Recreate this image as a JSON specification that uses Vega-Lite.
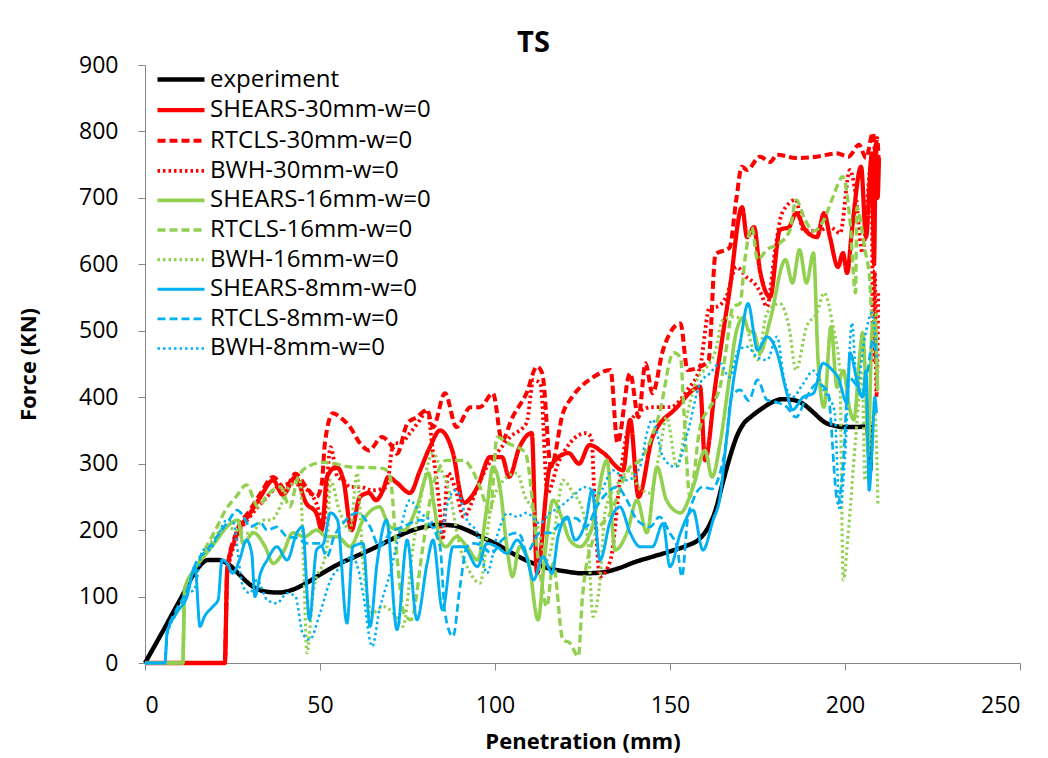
{
  "$schema": "https://vega.github.io/schema/vega-lite/v6.json",
  "width": 875,
  "height": 598,
  "autosize": "none",
  "padding": {"left": 145, "top": 65, "right": 28, "bottom": 95},
  "background": "white",
  "config": {
    "font": "Open Sans",
    "view": {"stroke": null},
    "axis": {"grid": false, "domainColor": "#868686", "tickColor": "#868686", "labelColor": "#000000", "titleColor": "#000000", "labelFont": "Open Sans", "titleFont": "Open Sans", "labelFontSize": 23, "titleFontSize": 22, "titleFontWeight": "bold", "tickSize": 7}
  },
  "title": {"text": "TS", "fontSize": 29, "fontWeight": "bold", "font": "Open Sans", "anchor": "middle", "frame": "group", "dx": -49, "offset": -4, "color": "#000000"},
  "data": {"values": [
{"series":"experiment","x":0,"y":0},{"series":"experiment","x":5,"y":47},{"series":"experiment","x":10,"y":95},{"series":"experiment","x":15,"y":142},{"series":"experiment","x":18,"y":155},{"series":"experiment","x":21,"y":155},{"series":"experiment","x":24,"y":148},{"series":"experiment","x":27,"y":133},{"series":"experiment","x":30,"y":118},{"series":"experiment","x":34,"y":108},{"series":"experiment","x":38,"y":106},{"series":"experiment","x":42,"y":110},{"series":"experiment","x":46,"y":120},{"series":"experiment","x":50,"y":133},{"series":"experiment","x":55,"y":148},{"series":"experiment","x":60,"y":160},{"series":"experiment","x":65,"y":172},{"series":"experiment","x":70,"y":185},{"series":"experiment","x":75,"y":197},{"series":"experiment","x":80,"y":205},{"series":"experiment","x":84,"y":208},{"series":"experiment","x":88,"y":207},{"series":"experiment","x":92,"y":200},{"series":"experiment","x":96,"y":190},{"series":"experiment","x":100,"y":180},{"series":"experiment","x":105,"y":165},{"series":"experiment","x":110,"y":152},{"series":"experiment","x":115,"y":143},{"series":"experiment","x":120,"y":138},{"series":"experiment","x":125,"y":135},{"series":"experiment","x":130,"y":136},{"series":"experiment","x":135,"y":142},{"series":"experiment","x":140,"y":152},{"series":"experiment","x":145,"y":160},{"series":"experiment","x":150,"y":168},{"series":"experiment","x":155,"y":177},{"series":"experiment","x":158,"y":185},{"series":"experiment","x":161,"y":205},{"series":"experiment","x":163,"y":230},{"series":"experiment","x":165,"y":270},{"series":"experiment","x":167,"y":308},{"series":"experiment","x":169,"y":340},{"series":"experiment","x":171,"y":360},{"series":"experiment","x":173,"y":370},{"series":"experiment","x":176,"y":382},{"series":"experiment","x":179,"y":392},{"series":"experiment","x":182,"y":397},{"series":"experiment","x":185,"y":396},{"series":"experiment","x":188,"y":390},{"series":"experiment","x":191,"y":377},{"series":"experiment","x":194,"y":363},{"series":"experiment","x":197,"y":357},{"series":"experiment","x":200,"y":355},{"series":"experiment","x":203,"y":355},{"series":"experiment","x":206,"y":356},{"series":"experiment","x":206.8,"y":330},{"series":"experiment","x":207.2,"y":290},{"series":"experiment","x":207.6,"y":355},{"series":"experiment","x":208,"y":355},

{"series":"SHEARS-30mm-w=0","x":0,"y":0},{"series":"SHEARS-30mm-w=0","x":22.8,"y":0},{"series":"SHEARS-30mm-w=0","x":23.5,"y":140},{"series":"SHEARS-30mm-w=0","x":26,"y":190},{"series":"SHEARS-30mm-w=0","x":30,"y":225},{"series":"SHEARS-30mm-w=0","x":33,"y":250},{"series":"SHEARS-30mm-w=0","x":36.6,"y":275},{"series":"SHEARS-30mm-w=0","x":39.4,"y":253},{"series":"SHEARS-30mm-w=0","x":43,"y":280},{"series":"SHEARS-30mm-w=0","x":46,"y":241},{"series":"SHEARS-30mm-w=0","x":49,"y":225},{"series":"SHEARS-30mm-w=0","x":50.5,"y":200},{"series":"SHEARS-30mm-w=0","x":52,"y":280},{"series":"SHEARS-30mm-w=0","x":54.7,"y":295},{"series":"SHEARS-30mm-w=0","x":56.7,"y":275},{"series":"SHEARS-30mm-w=0","x":59,"y":200},{"series":"SHEARS-30mm-w=0","x":61.4,"y":250},{"series":"SHEARS-30mm-w=0","x":64,"y":256},{"series":"SHEARS-30mm-w=0","x":66,"y":245},{"series":"SHEARS-30mm-w=0","x":68,"y":260},{"series":"SHEARS-30mm-w=0","x":69.5,"y":280},{"series":"SHEARS-30mm-w=0","x":72,"y":271},{"series":"SHEARS-30mm-w=0","x":75.7,"y":256},{"series":"SHEARS-30mm-w=0","x":78.6,"y":290},{"series":"SHEARS-30mm-w=0","x":81.4,"y":325},{"series":"SHEARS-30mm-w=0","x":84.3,"y":350},{"series":"SHEARS-30mm-w=0","x":88,"y":316},{"series":"SHEARS-30mm-w=0","x":91,"y":241},{"series":"SHEARS-30mm-w=0","x":95,"y":265},{"series":"SHEARS-30mm-w=0","x":98.6,"y":310},{"series":"SHEARS-30mm-w=0","x":102,"y":310},{"series":"SHEARS-30mm-w=0","x":104,"y":280},{"series":"SHEARS-30mm-w=0","x":107,"y":325},{"series":"SHEARS-30mm-w=0","x":110.5,"y":346},{"series":"SHEARS-30mm-w=0","x":112,"y":135},{"series":"SHEARS-30mm-w=0","x":115.7,"y":295},{"series":"SHEARS-30mm-w=0","x":121,"y":316},{"series":"SHEARS-30mm-w=0","x":124,"y":300},{"series":"SHEARS-30mm-w=0","x":127,"y":328},{"series":"SHEARS-30mm-w=0","x":131,"y":316},{"series":"SHEARS-30mm-w=0","x":136.6,"y":290},{"series":"SHEARS-30mm-w=0","x":138.6,"y":366},{"series":"SHEARS-30mm-w=0","x":141,"y":250},{"series":"SHEARS-30mm-w=0","x":145,"y":340},{"series":"SHEARS-30mm-w=0","x":152,"y":385},{"series":"SHEARS-30mm-w=0","x":156.6,"y":411},{"series":"SHEARS-30mm-w=0","x":158.6,"y":416},{"series":"SHEARS-30mm-w=0","x":160,"y":305},{"series":"SHEARS-30mm-w=0","x":163,"y":420},{"series":"SHEARS-30mm-w=0","x":167,"y":560},{"series":"SHEARS-30mm-w=0","x":170.6,"y":686},{"series":"SHEARS-30mm-w=0","x":172,"y":641},{"series":"SHEARS-30mm-w=0","x":174,"y":656},{"series":"SHEARS-30mm-w=0","x":175.7,"y":591},{"series":"SHEARS-30mm-w=0","x":178.6,"y":551},{"series":"SHEARS-30mm-w=0","x":181.4,"y":652},{"series":"SHEARS-30mm-w=0","x":184,"y":656},{"series":"SHEARS-30mm-w=0","x":186,"y":677},{"series":"SHEARS-30mm-w=0","x":188.6,"y":652},{"series":"SHEARS-30mm-w=0","x":192,"y":641},{"series":"SHEARS-30mm-w=0","x":194,"y":677},{"series":"SHEARS-30mm-w=0","x":195.7,"y":641},{"series":"SHEARS-30mm-w=0","x":198,"y":596},{"series":"SHEARS-30mm-w=0","x":199.4,"y":617},{"series":"SHEARS-30mm-w=0","x":200.6,"y":587},{"series":"SHEARS-30mm-w=0","x":202,"y":652},{"series":"SHEARS-30mm-w=0","x":204.6,"y":747},{"series":"SHEARS-30mm-w=0","x":206,"y":641},{"series":"SHEARS-30mm-w=0","x":207.7,"y":767},{"series":"SHEARS-30mm-w=0","x":208.3,"y":600},{"series":"SHEARS-30mm-w=0","x":208.8,"y":780},{"series":"SHEARS-30mm-w=0","x":209.3,"y":700},{"series":"SHEARS-30mm-w=0","x":209.7,"y":760},

{"series":"RTCLS-30mm-w=0","x":0,"y":0},{"series":"RTCLS-30mm-w=0","x":22.8,"y":0},{"series":"RTCLS-30mm-w=0","x":23.5,"y":140},{"series":"RTCLS-30mm-w=0","x":26,"y":195},{"series":"RTCLS-30mm-w=0","x":30,"y":230},{"series":"RTCLS-30mm-w=0","x":33,"y":255},{"series":"RTCLS-30mm-w=0","x":36.6,"y":280},{"series":"RTCLS-30mm-w=0","x":40,"y":262},{"series":"RTCLS-30mm-w=0","x":43,"y":285},{"series":"RTCLS-30mm-w=0","x":46,"y":265},{"series":"RTCLS-30mm-w=0","x":49,"y":250},{"series":"RTCLS-30mm-w=0","x":50.5,"y":270},{"series":"RTCLS-30mm-w=0","x":51.4,"y":331},{"series":"RTCLS-30mm-w=0","x":53.7,"y":376},{"series":"RTCLS-30mm-w=0","x":55.7,"y":370},{"series":"RTCLS-30mm-w=0","x":58.6,"y":355},{"series":"RTCLS-30mm-w=0","x":61.4,"y":331},{"series":"RTCLS-30mm-w=0","x":64,"y":320},{"series":"RTCLS-30mm-w=0","x":67.7,"y":340},{"series":"RTCLS-30mm-w=0","x":70,"y":330},{"series":"RTCLS-30mm-w=0","x":72,"y":315},{"series":"RTCLS-30mm-w=0","x":75,"y":361},{"series":"RTCLS-30mm-w=0","x":77.7,"y":370},{"series":"RTCLS-30mm-w=0","x":80.6,"y":381},{"series":"RTCLS-30mm-w=0","x":82.3,"y":355},{"series":"RTCLS-30mm-w=0","x":85.7,"y":406},{"series":"RTCLS-30mm-w=0","x":89,"y":355},{"series":"RTCLS-30mm-w=0","x":93,"y":385},{"series":"RTCLS-30mm-w=0","x":95.7,"y":385},{"series":"RTCLS-30mm-w=0","x":99.4,"y":406},{"series":"RTCLS-30mm-w=0","x":102,"y":335},{"series":"RTCLS-30mm-w=0","x":105,"y":370},{"series":"RTCLS-30mm-w=0","x":109,"y":406},{"series":"RTCLS-30mm-w=0","x":112,"y":446},{"series":"RTCLS-30mm-w=0","x":113.5,"y":436},{"series":"RTCLS-30mm-w=0","x":116,"y":295},{"series":"RTCLS-30mm-w=0","x":119.4,"y":376},{"series":"RTCLS-30mm-w=0","x":122,"y":400},{"series":"RTCLS-30mm-w=0","x":128,"y":430},{"series":"RTCLS-30mm-w=0","x":133,"y":441},{"series":"RTCLS-30mm-w=0","x":135,"y":331},{"series":"RTCLS-30mm-w=0","x":138.6,"y":436},{"series":"RTCLS-30mm-w=0","x":141,"y":370},{"series":"RTCLS-30mm-w=0","x":143,"y":451},{"series":"RTCLS-30mm-w=0","x":145,"y":406},{"series":"RTCLS-30mm-w=0","x":148,"y":471},{"series":"RTCLS-30mm-w=0","x":153,"y":511},{"series":"RTCLS-30mm-w=0","x":155,"y":441},{"series":"RTCLS-30mm-w=0","x":158.6,"y":446},{"series":"RTCLS-30mm-w=0","x":161,"y":455},{"series":"RTCLS-30mm-w=0","x":163,"y":615},{"series":"RTCLS-30mm-w=0","x":167,"y":625},{"series":"RTCLS-30mm-w=0","x":169,"y":700},{"series":"RTCLS-30mm-w=0","x":170.5,"y":747},{"series":"RTCLS-30mm-w=0","x":172,"y":742},{"series":"RTCLS-30mm-w=0","x":175.7,"y":762},{"series":"RTCLS-30mm-w=0","x":178.6,"y":754},{"series":"RTCLS-30mm-w=0","x":180.6,"y":765},{"series":"RTCLS-30mm-w=0","x":186,"y":760},{"series":"RTCLS-30mm-w=0","x":192,"y":762},{"series":"RTCLS-30mm-w=0","x":197.7,"y":767},{"series":"RTCLS-30mm-w=0","x":201,"y":762},{"series":"RTCLS-30mm-w=0","x":204,"y":780},{"series":"RTCLS-30mm-w=0","x":206,"y":760},{"series":"RTCLS-30mm-w=0","x":208,"y":798},{"series":"RTCLS-30mm-w=0","x":208.6,"y":770},{"series":"RTCLS-30mm-w=0","x":209.2,"y":790},{"series":"RTCLS-30mm-w=0","x":209.7,"y":745},

{"series":"BWH-30mm-w=0","x":0,"y":0},{"series":"BWH-30mm-w=0","x":22.8,"y":0},{"series":"BWH-30mm-w=0","x":23.5,"y":130},{"series":"BWH-30mm-w=0","x":26,"y":185},{"series":"BWH-30mm-w=0","x":30,"y":220},{"series":"BWH-30mm-w=0","x":34,"y":245},{"series":"BWH-30mm-w=0","x":38,"y":265},{"series":"BWH-30mm-w=0","x":42,"y":270},{"series":"BWH-30mm-w=0","x":46,"y":262},{"series":"BWH-30mm-w=0","x":49,"y":240},{"series":"BWH-30mm-w=0","x":51,"y":210},{"series":"BWH-30mm-w=0","x":53,"y":325},{"series":"BWH-30mm-w=0","x":55,"y":280},{"series":"BWH-30mm-w=0","x":56.7,"y":275},{"series":"BWH-30mm-w=0","x":58.6,"y":265},{"series":"BWH-30mm-w=0","x":61.4,"y":265},{"series":"BWH-30mm-w=0","x":65,"y":260},{"series":"BWH-30mm-w=0","x":69,"y":265},{"series":"BWH-30mm-w=0","x":71,"y":331},{"series":"BWH-30mm-w=0","x":73,"y":331},{"series":"BWH-30mm-w=0","x":75.7,"y":346},{"series":"BWH-30mm-w=0","x":78.6,"y":366},{"series":"BWH-30mm-w=0","x":80.6,"y":381},{"series":"BWH-30mm-w=0","x":82.3,"y":316},{"series":"BWH-30mm-w=0","x":84.3,"y":226},{"series":"BWH-30mm-w=0","x":85,"y":185},{"series":"BWH-30mm-w=0","x":86.6,"y":286},{"series":"BWH-30mm-w=0","x":89,"y":256},{"series":"BWH-30mm-w=0","x":91,"y":220},{"series":"BWH-30mm-w=0","x":95,"y":265},{"series":"BWH-30mm-w=0","x":97.7,"y":295},{"series":"BWH-30mm-w=0","x":100.6,"y":316},{"series":"BWH-30mm-w=0","x":104.3,"y":340},{"series":"BWH-30mm-w=0","x":109,"y":361},{"series":"BWH-30mm-w=0","x":111,"y":426},{"series":"BWH-30mm-w=0","x":113,"y":420},{"series":"BWH-30mm-w=0","x":115,"y":256},{"series":"BWH-30mm-w=0","x":118,"y":300},{"series":"BWH-30mm-w=0","x":121.4,"y":331},{"series":"BWH-30mm-w=0","x":126,"y":346},{"series":"BWH-30mm-w=0","x":127.5,"y":340},{"series":"BWH-30mm-w=0","x":128.6,"y":226},{"series":"BWH-30mm-w=0","x":130,"y":130},{"series":"BWH-30mm-w=0","x":133,"y":155},{"series":"BWH-30mm-w=0","x":135.7,"y":275},{"series":"BWH-30mm-w=0","x":137.7,"y":346},{"series":"BWH-30mm-w=0","x":140.6,"y":376},{"series":"BWH-30mm-w=0","x":145,"y":385},{"series":"BWH-30mm-w=0","x":150,"y":385},{"series":"BWH-30mm-w=0","x":155,"y":411},{"series":"BWH-30mm-w=0","x":158.6,"y":446},{"series":"BWH-30mm-w=0","x":161.4,"y":536},{"series":"BWH-30mm-w=0","x":163,"y":536},{"series":"BWH-30mm-w=0","x":166,"y":550},{"series":"BWH-30mm-w=0","x":169,"y":596},{"series":"BWH-30mm-w=0","x":172,"y":580},{"series":"BWH-30mm-w=0","x":174,"y":572},{"series":"BWH-30mm-w=0","x":176,"y":556},{"series":"BWH-30mm-w=0","x":177.7,"y":536},{"series":"BWH-30mm-w=0","x":180,"y":620},{"series":"BWH-30mm-w=0","x":182,"y":677},{"series":"BWH-30mm-w=0","x":186,"y":697},{"series":"BWH-30mm-w=0","x":188,"y":652},{"series":"BWH-30mm-w=0","x":192,"y":650},{"series":"BWH-30mm-w=0","x":195.7,"y":656},{"series":"BWH-30mm-w=0","x":198.6,"y":647},{"series":"BWH-30mm-w=0","x":201.4,"y":742},{"series":"BWH-30mm-w=0","x":203,"y":707},{"series":"BWH-30mm-w=0","x":205,"y":617},{"series":"BWH-30mm-w=0","x":207.6,"y":757},{"series":"BWH-30mm-w=0","x":208,"y":456},{"series":"BWH-30mm-w=0","x":208.5,"y":591},{"series":"BWH-30mm-w=0","x":209,"y":400},{"series":"BWH-30mm-w=0","x":209.5,"y":560},

{"series":"SHEARS-16mm-w=0","x":0,"y":0},{"series":"SHEARS-16mm-w=0","x":10.8,"y":0},{"series":"SHEARS-16mm-w=0","x":11.3,"y":110},{"series":"SHEARS-16mm-w=0","x":14,"y":140},{"series":"SHEARS-16mm-w=0","x":17.7,"y":166},{"series":"SHEARS-16mm-w=0","x":20.5,"y":185},{"series":"SHEARS-16mm-w=0","x":23.4,"y":205},{"series":"SHEARS-16mm-w=0","x":26.6,"y":215},{"series":"SHEARS-16mm-w=0","x":28,"y":180},{"series":"SHEARS-16mm-w=0","x":31,"y":196},{"series":"SHEARS-16mm-w=0","x":34.3,"y":175},{"series":"SHEARS-16mm-w=0","x":36.6,"y":150},{"series":"SHEARS-16mm-w=0","x":39.4,"y":166},{"series":"SHEARS-16mm-w=0","x":42.3,"y":196},{"series":"SHEARS-16mm-w=0","x":45.5,"y":190},{"series":"SHEARS-16mm-w=0","x":49,"y":200},{"series":"SHEARS-16mm-w=0","x":52,"y":190},{"series":"SHEARS-16mm-w=0","x":55,"y":190},{"series":"SHEARS-16mm-w=0","x":58.6,"y":175},{"series":"SHEARS-16mm-w=0","x":62.3,"y":215},{"series":"SHEARS-16mm-w=0","x":67,"y":235},{"series":"SHEARS-16mm-w=0","x":70,"y":205},{"series":"SHEARS-16mm-w=0","x":74,"y":200},{"series":"SHEARS-16mm-w=0","x":77.7,"y":235},{"series":"SHEARS-16mm-w=0","x":81,"y":286},{"series":"SHEARS-16mm-w=0","x":82.5,"y":240},{"series":"SHEARS-16mm-w=0","x":84.3,"y":185},{"series":"SHEARS-16mm-w=0","x":86,"y":175},{"series":"SHEARS-16mm-w=0","x":89,"y":190},{"series":"SHEARS-16mm-w=0","x":92,"y":175},{"series":"SHEARS-16mm-w=0","x":95,"y":155},{"series":"SHEARS-16mm-w=0","x":97.7,"y":235},{"series":"SHEARS-16mm-w=0","x":99.4,"y":295},{"series":"SHEARS-16mm-w=0","x":101.4,"y":265},{"series":"SHEARS-16mm-w=0","x":103.4,"y":175},{"series":"SHEARS-16mm-w=0","x":105,"y":130},{"series":"SHEARS-16mm-w=0","x":107,"y":175},{"series":"SHEARS-16mm-w=0","x":109.5,"y":155},{"series":"SHEARS-16mm-w=0","x":112.3,"y":65},{"series":"SHEARS-16mm-w=0","x":114.3,"y":166},{"series":"SHEARS-16mm-w=0","x":116.6,"y":245},{"series":"SHEARS-16mm-w=0","x":119,"y":220},{"series":"SHEARS-16mm-w=0","x":121.4,"y":185},{"series":"SHEARS-16mm-w=0","x":124.3,"y":175},{"series":"SHEARS-16mm-w=0","x":127.5,"y":200},{"series":"SHEARS-16mm-w=0","x":132,"y":305},{"series":"SHEARS-16mm-w=0","x":134.3,"y":170},{"series":"SHEARS-16mm-w=0","x":137.7,"y":196},{"series":"SHEARS-16mm-w=0","x":140.6,"y":245},{"series":"SHEARS-16mm-w=0","x":143.4,"y":196},{"series":"SHEARS-16mm-w=0","x":146.3,"y":295},{"series":"SHEARS-16mm-w=0","x":149,"y":245},{"series":"SHEARS-16mm-w=0","x":153,"y":226},{"series":"SHEARS-16mm-w=0","x":156.6,"y":265},{"series":"SHEARS-16mm-w=0","x":160,"y":320},{"series":"SHEARS-16mm-w=0","x":162,"y":280},{"series":"SHEARS-16mm-w=0","x":164.3,"y":330},{"series":"SHEARS-16mm-w=0","x":167,"y":430},{"series":"SHEARS-16mm-w=0","x":169,"y":500},{"series":"SHEARS-16mm-w=0","x":171,"y":520},{"series":"SHEARS-16mm-w=0","x":172.5,"y":500},{"series":"SHEARS-16mm-w=0","x":174,"y":497},{"series":"SHEARS-16mm-w=0","x":175.7,"y":467},{"series":"SHEARS-16mm-w=0","x":178.6,"y":516},{"series":"SHEARS-16mm-w=0","x":183,"y":607},{"series":"SHEARS-16mm-w=0","x":185,"y":572},{"series":"SHEARS-16mm-w=0","x":187,"y":622},{"series":"SHEARS-16mm-w=0","x":189,"y":572},{"series":"SHEARS-16mm-w=0","x":191,"y":617},{"series":"SHEARS-16mm-w=0","x":192.3,"y":456},{"series":"SHEARS-16mm-w=0","x":194,"y":385},{"series":"SHEARS-16mm-w=0","x":196,"y":506},{"series":"SHEARS-16mm-w=0","x":197.7,"y":415},{"series":"SHEARS-16mm-w=0","x":199.5,"y":440},{"series":"SHEARS-16mm-w=0","x":201.4,"y":381},{"series":"SHEARS-16mm-w=0","x":202.5,"y":366},{"series":"SHEARS-16mm-w=0","x":204.3,"y":467},{"series":"SHEARS-16mm-w=0","x":205,"y":497},{"series":"SHEARS-16mm-w=0","x":206,"y":406},{"series":"SHEARS-16mm-w=0","x":206.6,"y":316},{"series":"SHEARS-16mm-w=0","x":207.7,"y":497},{"series":"SHEARS-16mm-w=0","x":208.6,"y":516},{"series":"SHEARS-16mm-w=0","x":209.3,"y":410},

{"series":"RTCLS-16mm-w=0","x":0,"y":0},{"series":"RTCLS-16mm-w=0","x":10.8,"y":0},{"series":"RTCLS-16mm-w=0","x":11.3,"y":110},{"series":"RTCLS-16mm-w=0","x":14,"y":140},{"series":"RTCLS-16mm-w=0","x":17,"y":170},{"series":"RTCLS-16mm-w=0","x":20.6,"y":205},{"series":"RTCLS-16mm-w=0","x":23,"y":230},{"series":"RTCLS-16mm-w=0","x":26,"y":250},{"series":"RTCLS-16mm-w=0","x":29,"y":268},{"series":"RTCLS-16mm-w=0","x":32.3,"y":235},{"series":"RTCLS-16mm-w=0","x":35,"y":253},{"series":"RTCLS-16mm-w=0","x":38.6,"y":265},{"series":"RTCLS-16mm-w=0","x":41.4,"y":235},{"series":"RTCLS-16mm-w=0","x":43.4,"y":275},{"series":"RTCLS-16mm-w=0","x":46.3,"y":295},{"series":"RTCLS-16mm-w=0","x":51,"y":302},{"series":"RTCLS-16mm-w=0","x":53,"y":301},{"series":"RTCLS-16mm-w=0","x":58.6,"y":295},{"series":"RTCLS-16mm-w=0","x":64,"y":294},{"series":"RTCLS-16mm-w=0","x":68,"y":293},{"series":"RTCLS-16mm-w=0","x":70,"y":280},{"series":"RTCLS-16mm-w=0","x":72,"y":160},{"series":"RTCLS-16mm-w=0","x":74,"y":75},{"series":"RTCLS-16mm-w=0","x":76,"y":65},{"series":"RTCLS-16mm-w=0","x":79.4,"y":175},{"series":"RTCLS-16mm-w=0","x":82,"y":260},{"series":"RTCLS-16mm-w=0","x":84.3,"y":295},{"series":"RTCLS-16mm-w=0","x":86,"y":305},{"series":"RTCLS-16mm-w=0","x":91,"y":305},{"series":"RTCLS-16mm-w=0","x":93,"y":295},{"series":"RTCLS-16mm-w=0","x":95.7,"y":265},{"series":"RTCLS-16mm-w=0","x":98.6,"y":226},{"series":"RTCLS-16mm-w=0","x":100.6,"y":340},{"series":"RTCLS-16mm-w=0","x":104,"y":330},{"series":"RTCLS-16mm-w=0","x":108.6,"y":317},{"series":"RTCLS-16mm-w=0","x":112.9,"y":135},{"series":"RTCLS-16mm-w=0","x":114.8,"y":85},{"series":"RTCLS-16mm-w=0","x":116.6,"y":150},{"series":"RTCLS-16mm-w=0","x":119.4,"y":35},{"series":"RTCLS-16mm-w=0","x":121.4,"y":30},{"series":"RTCLS-16mm-w=0","x":123.8,"y":10},{"series":"RTCLS-16mm-w=0","x":125,"y":100},{"series":"RTCLS-16mm-w=0","x":128,"y":185},{"series":"RTCLS-16mm-w=0","x":133,"y":226},{"series":"RTCLS-16mm-w=0","x":138.6,"y":295},{"series":"RTCLS-16mm-w=0","x":141.4,"y":305},{"series":"RTCLS-16mm-w=0","x":147,"y":376},{"series":"RTCLS-16mm-w=0","x":151,"y":467},{"series":"RTCLS-16mm-w=0","x":153,"y":460},{"series":"RTCLS-16mm-w=0","x":154,"y":376},{"series":"RTCLS-16mm-w=0","x":155.7,"y":250},{"series":"RTCLS-16mm-w=0","x":158.6,"y":355},{"series":"RTCLS-16mm-w=0","x":161.4,"y":385},{"series":"RTCLS-16mm-w=0","x":164.3,"y":416},{"series":"RTCLS-16mm-w=0","x":166,"y":470},{"series":"RTCLS-16mm-w=0","x":168,"y":536},{"series":"RTCLS-16mm-w=0","x":170,"y":541},{"series":"RTCLS-16mm-w=0","x":171.4,"y":607},{"series":"RTCLS-16mm-w=0","x":173.4,"y":656},{"series":"RTCLS-16mm-w=0","x":175,"y":607},{"series":"RTCLS-16mm-w=0","x":177.7,"y":622},{"series":"RTCLS-16mm-w=0","x":181.4,"y":632},{"series":"RTCLS-16mm-w=0","x":184.3,"y":652},{"series":"RTCLS-16mm-w=0","x":186,"y":697},{"series":"RTCLS-16mm-w=0","x":188.6,"y":667},{"series":"RTCLS-16mm-w=0","x":191,"y":650},{"series":"RTCLS-16mm-w=0","x":194,"y":667},{"series":"RTCLS-16mm-w=0","x":196.6,"y":702},{"series":"RTCLS-16mm-w=0","x":199.4,"y":732},{"series":"RTCLS-16mm-w=0","x":201.4,"y":667},{"series":"RTCLS-16mm-w=0","x":203,"y":557},{"series":"RTCLS-16mm-w=0","x":203.4,"y":686},{"series":"RTCLS-16mm-w=0","x":205.7,"y":622},{"series":"RTCLS-16mm-w=0","x":207,"y":580},{"series":"RTCLS-16mm-w=0","x":208,"y":500},{"series":"RTCLS-16mm-w=0","x":209,"y":527},

{"series":"BWH-16mm-w=0","x":0,"y":0},{"series":"BWH-16mm-w=0","x":10.8,"y":0},{"series":"BWH-16mm-w=0","x":11.3,"y":110},{"series":"BWH-16mm-w=0","x":14,"y":140},{"series":"BWH-16mm-w=0","x":17,"y":165},{"series":"BWH-16mm-w=0","x":20,"y":190},{"series":"BWH-16mm-w=0","x":23,"y":205},{"series":"BWH-16mm-w=0","x":26,"y":200},{"series":"BWH-16mm-w=0","x":30,"y":195},{"series":"BWH-16mm-w=0","x":34,"y":215},{"series":"BWH-16mm-w=0","x":36,"y":215},{"series":"BWH-16mm-w=0","x":38.6,"y":235},{"series":"BWH-16mm-w=0","x":40.5,"y":260},{"series":"BWH-16mm-w=0","x":44.3,"y":275},{"series":"BWH-16mm-w=0","x":45.3,"y":150},{"series":"BWH-16mm-w=0","x":46.3,"y":15},{"series":"BWH-16mm-w=0","x":48,"y":105},{"series":"BWH-16mm-w=0","x":52,"y":175},{"series":"BWH-16mm-w=0","x":53,"y":275},{"series":"BWH-16mm-w=0","x":55.5,"y":230},{"series":"BWH-16mm-w=0","x":58.6,"y":200},{"series":"BWH-16mm-w=0","x":60.6,"y":286},{"series":"BWH-16mm-w=0","x":62.3,"y":150},{"series":"BWH-16mm-w=0","x":65,"y":75},{"series":"BWH-16mm-w=0","x":68,"y":85},{"series":"BWH-16mm-w=0","x":71,"y":75},{"series":"BWH-16mm-w=0","x":73.7,"y":55},{"series":"BWH-16mm-w=0","x":76.6,"y":175},{"series":"BWH-16mm-w=0","x":79.4,"y":265},{"series":"BWH-16mm-w=0","x":82.3,"y":316},{"series":"BWH-16mm-w=0","x":84.3,"y":295},{"series":"BWH-16mm-w=0","x":87,"y":256},{"series":"BWH-16mm-w=0","x":90,"y":175},{"series":"BWH-16mm-w=0","x":93,"y":135},{"series":"BWH-16mm-w=0","x":95.7,"y":120},{"series":"BWH-16mm-w=0","x":98.6,"y":226},{"series":"BWH-16mm-w=0","x":101,"y":265},{"series":"BWH-16mm-w=0","x":106.3,"y":286},{"series":"BWH-16mm-w=0","x":108.6,"y":250},{"series":"BWH-16mm-w=0","x":111,"y":230},{"series":"BWH-16mm-w=0","x":115,"y":156},{"series":"BWH-16mm-w=0","x":117,"y":200},{"series":"BWH-16mm-w=0","x":119.4,"y":275},{"series":"BWH-16mm-w=0","x":122.3,"y":256},{"series":"BWH-16mm-w=0","x":125,"y":230},{"series":"BWH-16mm-w=0","x":126.7,"y":175},{"series":"BWH-16mm-w=0","x":128,"y":70},{"series":"BWH-16mm-w=0","x":130,"y":125},{"series":"BWH-16mm-w=0","x":131.5,"y":230},{"series":"BWH-16mm-w=0","x":135.7,"y":275},{"series":"BWH-16mm-w=0","x":138.6,"y":290},{"series":"BWH-16mm-w=0","x":141,"y":265},{"series":"BWH-16mm-w=0","x":144.3,"y":256},{"series":"BWH-16mm-w=0","x":147,"y":316},{"series":"BWH-16mm-w=0","x":149,"y":370},{"series":"BWH-16mm-w=0","x":152,"y":295},{"series":"BWH-16mm-w=0","x":155,"y":376},{"series":"BWH-16mm-w=0","x":157.7,"y":426},{"series":"BWH-16mm-w=0","x":160.6,"y":446},{"series":"BWH-16mm-w=0","x":163,"y":470},{"series":"BWH-16mm-w=0","x":165,"y":516},{"series":"BWH-16mm-w=0","x":168,"y":521},{"series":"BWH-16mm-w=0","x":171,"y":516},{"series":"BWH-16mm-w=0","x":175,"y":456},{"series":"BWH-16mm-w=0","x":177.7,"y":527},{"series":"BWH-16mm-w=0","x":181.4,"y":541},{"series":"BWH-16mm-w=0","x":184,"y":506},{"series":"BWH-16mm-w=0","x":186,"y":441},{"series":"BWH-16mm-w=0","x":189,"y":506},{"series":"BWH-16mm-w=0","x":192,"y":527},{"series":"BWH-16mm-w=0","x":194,"y":557},{"series":"BWH-16mm-w=0","x":196.6,"y":506},{"series":"BWH-16mm-w=0","x":198.5,"y":440},{"series":"BWH-16mm-w=0","x":199.5,"y":125},{"series":"BWH-16mm-w=0","x":201,"y":200},{"series":"BWH-16mm-w=0","x":203,"y":335},{"series":"BWH-16mm-w=0","x":204.9,"y":436},{"series":"BWH-16mm-w=0","x":205.7,"y":275},{"series":"BWH-16mm-w=0","x":207.5,"y":350},{"series":"BWH-16mm-w=0","x":208.5,"y":380},{"series":"BWH-16mm-w=0","x":209.4,"y":240},

{"series":"SHEARS-8mm-w=0","x":0,"y":0},{"series":"SHEARS-8mm-w=0","x":5.7,"y":0},{"series":"SHEARS-8mm-w=0","x":6.3,"y":45},{"series":"SHEARS-8mm-w=0","x":9,"y":75},{"series":"SHEARS-8mm-w=0","x":12,"y":100},{"series":"SHEARS-8mm-w=0","x":14.3,"y":145},{"series":"SHEARS-8mm-w=0","x":15.7,"y":55},{"series":"SHEARS-8mm-w=0","x":17,"y":70},{"series":"SHEARS-8mm-w=0","x":19.4,"y":85},{"series":"SHEARS-8mm-w=0","x":20.9,"y":95},{"series":"SHEARS-8mm-w=0","x":22,"y":155},{"series":"SHEARS-8mm-w=0","x":23.5,"y":150},{"series":"SHEARS-8mm-w=0","x":25,"y":135},{"series":"SHEARS-8mm-w=0","x":27,"y":155},{"series":"SHEARS-8mm-w=0","x":29,"y":185},{"series":"SHEARS-8mm-w=0","x":30.5,"y":165},{"series":"SHEARS-8mm-w=0","x":31.4,"y":100},{"series":"SHEARS-8mm-w=0","x":33,"y":135},{"series":"SHEARS-8mm-w=0","x":34.9,"y":155},{"series":"SHEARS-8mm-w=0","x":37.7,"y":175},{"series":"SHEARS-8mm-w=0","x":40.6,"y":155},{"series":"SHEARS-8mm-w=0","x":43.4,"y":196},{"series":"SHEARS-8mm-w=0","x":45,"y":205},{"series":"SHEARS-8mm-w=0","x":47,"y":65},{"series":"SHEARS-8mm-w=0","x":49,"y":170},{"series":"SHEARS-8mm-w=0","x":51,"y":180},{"series":"SHEARS-8mm-w=0","x":53,"y":226},{"series":"SHEARS-8mm-w=0","x":55,"y":215},{"series":"SHEARS-8mm-w=0","x":57.7,"y":60},{"series":"SHEARS-8mm-w=0","x":59.4,"y":175},{"series":"SHEARS-8mm-w=0","x":62.3,"y":180},{"series":"SHEARS-8mm-w=0","x":64.3,"y":55},{"series":"SHEARS-8mm-w=0","x":66.3,"y":150},{"series":"SHEARS-8mm-w=0","x":69,"y":215},{"series":"SHEARS-8mm-w=0","x":72,"y":50},{"series":"SHEARS-8mm-w=0","x":74.9,"y":185},{"series":"SHEARS-8mm-w=0","x":77.7,"y":65},{"series":"SHEARS-8mm-w=0","x":80.6,"y":150},{"series":"SHEARS-8mm-w=0","x":82.3,"y":185},{"series":"SHEARS-8mm-w=0","x":85,"y":80},{"series":"SHEARS-8mm-w=0","x":88,"y":175},{"series":"SHEARS-8mm-w=0","x":91,"y":175},{"series":"SHEARS-8mm-w=0","x":95,"y":145},{"series":"SHEARS-8mm-w=0","x":97.7,"y":180},{"series":"SHEARS-8mm-w=0","x":100.5,"y":175},{"series":"SHEARS-8mm-w=0","x":103.5,"y":165},{"series":"SHEARS-8mm-w=0","x":106.3,"y":185},{"series":"SHEARS-8mm-w=0","x":109,"y":160},{"series":"SHEARS-8mm-w=0","x":111,"y":125},{"series":"SHEARS-8mm-w=0","x":113.7,"y":160},{"series":"SHEARS-8mm-w=0","x":116.3,"y":135},{"series":"SHEARS-8mm-w=0","x":118,"y":190},{"series":"SHEARS-8mm-w=0","x":120.6,"y":220},{"series":"SHEARS-8mm-w=0","x":122.9,"y":185},{"series":"SHEARS-8mm-w=0","x":126,"y":215},{"series":"SHEARS-8mm-w=0","x":127.7,"y":260},{"series":"SHEARS-8mm-w=0","x":130,"y":155},{"series":"SHEARS-8mm-w=0","x":133,"y":215},{"series":"SHEARS-8mm-w=0","x":135.7,"y":235},{"series":"SHEARS-8mm-w=0","x":138.6,"y":196},{"series":"SHEARS-8mm-w=0","x":141.4,"y":175},{"series":"SHEARS-8mm-w=0","x":145,"y":175},{"series":"SHEARS-8mm-w=0","x":148,"y":210},{"series":"SHEARS-8mm-w=0","x":150,"y":145},{"series":"SHEARS-8mm-w=0","x":153,"y":196},{"series":"SHEARS-8mm-w=0","x":156.6,"y":230},{"series":"SHEARS-8mm-w=0","x":159.4,"y":170},{"series":"SHEARS-8mm-w=0","x":162.3,"y":215},{"series":"SHEARS-8mm-w=0","x":164.3,"y":250},{"series":"SHEARS-8mm-w=0","x":166,"y":330},{"series":"SHEARS-8mm-w=0","x":168,"y":420},{"series":"SHEARS-8mm-w=0","x":170,"y":480},{"series":"SHEARS-8mm-w=0","x":172.3,"y":541},{"series":"SHEARS-8mm-w=0","x":175,"y":471},{"series":"SHEARS-8mm-w=0","x":177.7,"y":491},{"series":"SHEARS-8mm-w=0","x":180.6,"y":467},{"series":"SHEARS-8mm-w=0","x":183.4,"y":406},{"series":"SHEARS-8mm-w=0","x":185,"y":381},{"series":"SHEARS-8mm-w=0","x":188,"y":400},{"series":"SHEARS-8mm-w=0","x":191,"y":406},{"series":"SHEARS-8mm-w=0","x":193.7,"y":451},{"series":"SHEARS-8mm-w=0","x":196.5,"y":440},{"series":"SHEARS-8mm-w=0","x":198,"y":430},{"series":"SHEARS-8mm-w=0","x":200.6,"y":391},{"series":"SHEARS-8mm-w=0","x":201.4,"y":467},{"series":"SHEARS-8mm-w=0","x":203.4,"y":426},{"series":"SHEARS-8mm-w=0","x":205,"y":400},{"series":"SHEARS-8mm-w=0","x":206,"y":440},{"series":"SHEARS-8mm-w=0","x":206.9,"y":260},{"series":"SHEARS-8mm-w=0","x":207.8,"y":330},{"series":"SHEARS-8mm-w=0","x":208.5,"y":400},{"series":"SHEARS-8mm-w=0","x":209,"y":376},

{"series":"RTCLS-8mm-w=0","x":0,"y":0},{"series":"RTCLS-8mm-w=0","x":5.7,"y":0},{"series":"RTCLS-8mm-w=0","x":6.3,"y":45},{"series":"RTCLS-8mm-w=0","x":9,"y":80},{"series":"RTCLS-8mm-w=0","x":12,"y":110},{"series":"RTCLS-8mm-w=0","x":14.5,"y":150},{"series":"RTCLS-8mm-w=0","x":17.7,"y":170},{"series":"RTCLS-8mm-w=0","x":21.4,"y":196},{"series":"RTCLS-8mm-w=0","x":24,"y":215},{"series":"RTCLS-8mm-w=0","x":26.3,"y":230},{"series":"RTCLS-8mm-w=0","x":28,"y":222},{"series":"RTCLS-8mm-w=0","x":30,"y":205},{"series":"RTCLS-8mm-w=0","x":33,"y":211},{"series":"RTCLS-8mm-w=0","x":34.9,"y":200},{"series":"RTCLS-8mm-w=0","x":37.7,"y":205},{"series":"RTCLS-8mm-w=0","x":40.6,"y":190},{"series":"RTCLS-8mm-w=0","x":43.5,"y":188},{"series":"RTCLS-8mm-w=0","x":46.3,"y":180},{"series":"RTCLS-8mm-w=0","x":50,"y":180},{"series":"RTCLS-8mm-w=0","x":52,"y":160},{"series":"RTCLS-8mm-w=0","x":54,"y":190},{"series":"RTCLS-8mm-w=0","x":56.7,"y":211},{"series":"RTCLS-8mm-w=0","x":60.6,"y":226},{"series":"RTCLS-8mm-w=0","x":64.3,"y":205},{"series":"RTCLS-8mm-w=0","x":67,"y":175},{"series":"RTCLS-8mm-w=0","x":70,"y":196},{"series":"RTCLS-8mm-w=0","x":73.7,"y":205},{"series":"RTCLS-8mm-w=0","x":78.6,"y":215},{"series":"RTCLS-8mm-w=0","x":81,"y":210},{"series":"RTCLS-8mm-w=0","x":84.3,"y":175},{"series":"RTCLS-8mm-w=0","x":85.7,"y":75},{"series":"RTCLS-8mm-w=0","x":88,"y":40},{"series":"RTCLS-8mm-w=0","x":90,"y":115},{"series":"RTCLS-8mm-w=0","x":92,"y":175},{"series":"RTCLS-8mm-w=0","x":94,"y":180},{"series":"RTCLS-8mm-w=0","x":96.6,"y":175},{"series":"RTCLS-8mm-w=0","x":99,"y":165},{"series":"RTCLS-8mm-w=0","x":102,"y":185},{"series":"RTCLS-8mm-w=0","x":106.3,"y":196},{"series":"RTCLS-8mm-w=0","x":107.5,"y":190},{"series":"RTCLS-8mm-w=0","x":109,"y":166},{"series":"RTCLS-8mm-w=0","x":112.9,"y":196},{"series":"RTCLS-8mm-w=0","x":116,"y":196},{"series":"RTCLS-8mm-w=0","x":119.4,"y":215},{"series":"RTCLS-8mm-w=0","x":123,"y":218},{"series":"RTCLS-8mm-w=0","x":126,"y":205},{"series":"RTCLS-8mm-w=0","x":129,"y":235},{"series":"RTCLS-8mm-w=0","x":132,"y":256},{"series":"RTCLS-8mm-w=0","x":134.9,"y":265},{"series":"RTCLS-8mm-w=0","x":137.7,"y":245},{"series":"RTCLS-8mm-w=0","x":140.6,"y":215},{"series":"RTCLS-8mm-w=0","x":144.3,"y":205},{"series":"RTCLS-8mm-w=0","x":147,"y":220},{"series":"RTCLS-8mm-w=0","x":150,"y":195},{"series":"RTCLS-8mm-w=0","x":152,"y":175},{"series":"RTCLS-8mm-w=0","x":153.4,"y":130},{"series":"RTCLS-8mm-w=0","x":155,"y":215},{"series":"RTCLS-8mm-w=0","x":156.6,"y":245},{"series":"RTCLS-8mm-w=0","x":159.4,"y":265},{"series":"RTCLS-8mm-w=0","x":162,"y":262},{"series":"RTCLS-8mm-w=0","x":164.3,"y":286},{"series":"RTCLS-8mm-w=0","x":166,"y":330},{"series":"RTCLS-8mm-w=0","x":167.5,"y":400},{"series":"RTCLS-8mm-w=0","x":170,"y":411},{"series":"RTCLS-8mm-w=0","x":172.5,"y":395},{"series":"RTCLS-8mm-w=0","x":175,"y":426},{"series":"RTCLS-8mm-w=0","x":177.7,"y":396},{"series":"RTCLS-8mm-w=0","x":180,"y":393},{"series":"RTCLS-8mm-w=0","x":183.4,"y":385},{"series":"RTCLS-8mm-w=0","x":186,"y":370},{"series":"RTCLS-8mm-w=0","x":189,"y":400},{"series":"RTCLS-8mm-w=0","x":192,"y":420},{"series":"RTCLS-8mm-w=0","x":195,"y":410},{"series":"RTCLS-8mm-w=0","x":198,"y":240},{"series":"RTCLS-8mm-w=0","x":199.5,"y":300},{"series":"RTCLS-8mm-w=0","x":201,"y":430},{"series":"RTCLS-8mm-w=0","x":203,"y":420},{"series":"RTCLS-8mm-w=0","x":205,"y":400},{"series":"RTCLS-8mm-w=0","x":206.5,"y":440},{"series":"RTCLS-8mm-w=0","x":208,"y":486},{"series":"RTCLS-8mm-w=0","x":209,"y":460},

{"series":"BWH-8mm-w=0","x":0,"y":0},{"series":"BWH-8mm-w=0","x":5.7,"y":0},{"series":"BWH-8mm-w=0","x":6.3,"y":40},{"series":"BWH-8mm-w=0","x":9,"y":75},{"series":"BWH-8mm-w=0","x":12,"y":105},{"series":"BWH-8mm-w=0","x":14,"y":110},{"series":"BWH-8mm-w=0","x":16.6,"y":170},{"series":"BWH-8mm-w=0","x":18.5,"y":170},{"series":"BWH-8mm-w=0","x":20.6,"y":190},{"series":"BWH-8mm-w=0","x":23.4,"y":215},{"series":"BWH-8mm-w=0","x":25,"y":214},{"series":"BWH-8mm-w=0","x":28,"y":115},{"series":"BWH-8mm-w=0","x":30,"y":105},{"series":"BWH-8mm-w=0","x":32,"y":125},{"series":"BWH-8mm-w=0","x":34.9,"y":95},{"series":"BWH-8mm-w=0","x":37.7,"y":90},{"series":"BWH-8mm-w=0","x":40.6,"y":105},{"series":"BWH-8mm-w=0","x":43,"y":100},{"series":"BWH-8mm-w=0","x":45,"y":45},{"series":"BWH-8mm-w=0","x":47,"y":35},{"series":"BWH-8mm-w=0","x":50,"y":75},{"series":"BWH-8mm-w=0","x":53,"y":125},{"series":"BWH-8mm-w=0","x":56,"y":145},{"series":"BWH-8mm-w=0","x":59,"y":160},{"series":"BWH-8mm-w=0","x":61,"y":140},{"series":"BWH-8mm-w=0","x":62.3,"y":105},{"series":"BWH-8mm-w=0","x":64.9,"y":25},{"series":"BWH-8mm-w=0","x":67,"y":80},{"series":"BWH-8mm-w=0","x":70,"y":135},{"series":"BWH-8mm-w=0","x":72.9,"y":200},{"series":"BWH-8mm-w=0","x":75.7,"y":245},{"series":"BWH-8mm-w=0","x":78.6,"y":226},{"series":"BWH-8mm-w=0","x":81.5,"y":215},{"series":"BWH-8mm-w=0","x":84.3,"y":195},{"series":"BWH-8mm-w=0","x":87,"y":250},{"series":"BWH-8mm-w=0","x":89,"y":260},{"series":"BWH-8mm-w=0","x":92,"y":215},{"series":"BWH-8mm-w=0","x":95,"y":195},{"series":"BWH-8mm-w=0","x":97.7,"y":135},{"series":"BWH-8mm-w=0","x":100.5,"y":190},{"series":"BWH-8mm-w=0","x":103.5,"y":225},{"series":"BWH-8mm-w=0","x":106.3,"y":220},{"series":"BWH-8mm-w=0","x":109,"y":226},{"series":"BWH-8mm-w=0","x":112.9,"y":210},{"series":"BWH-8mm-w=0","x":115.5,"y":225},{"series":"BWH-8mm-w=0","x":118.6,"y":235},{"series":"BWH-8mm-w=0","x":122,"y":250},{"series":"BWH-8mm-w=0","x":126,"y":265},{"series":"BWH-8mm-w=0","x":129.5,"y":255},{"series":"BWH-8mm-w=0","x":133.7,"y":290},{"series":"BWH-8mm-w=0","x":137.7,"y":275},{"series":"BWH-8mm-w=0","x":141.4,"y":295},{"series":"BWH-8mm-w=0","x":143.4,"y":346},{"series":"BWH-8mm-w=0","x":145,"y":366},{"series":"BWH-8mm-w=0","x":148,"y":310},{"series":"BWH-8mm-w=0","x":151.5,"y":295},{"series":"BWH-8mm-w=0","x":155,"y":346},{"series":"BWH-8mm-w=0","x":158.6,"y":421},{"series":"BWH-8mm-w=0","x":161.4,"y":436},{"series":"BWH-8mm-w=0","x":164.3,"y":451},{"series":"BWH-8mm-w=0","x":167,"y":430},{"series":"BWH-8mm-w=0","x":169.5,"y":470},{"series":"BWH-8mm-w=0","x":172,"y":476},{"series":"BWH-8mm-w=0","x":175,"y":460},{"series":"BWH-8mm-w=0","x":177.7,"y":456},{"series":"BWH-8mm-w=0","x":180.6,"y":491},{"series":"BWH-8mm-w=0","x":182.5,"y":430},{"series":"BWH-8mm-w=0","x":185,"y":400},{"series":"BWH-8mm-w=0","x":188,"y":420},{"series":"BWH-8mm-w=0","x":191,"y":440},{"series":"BWH-8mm-w=0","x":194,"y":410},{"series":"BWH-8mm-w=0","x":197,"y":380},{"series":"BWH-8mm-w=0","x":198.5,"y":230},{"series":"BWH-8mm-w=0","x":200,"y":310},{"series":"BWH-8mm-w=0","x":202,"y":512},{"series":"BWH-8mm-w=0","x":203.4,"y":416},{"series":"BWH-8mm-w=0","x":205.7,"y":491},{"series":"BWH-8mm-w=0","x":207.7,"y":527},{"series":"BWH-8mm-w=0","x":209,"y":470}
  ]},
  "mark": {"type": "line", "interpolate": "monotone", "strokeCap": "butt", "strokeJoin": "round"},
  "encoding": {
    "x": {"field": "x", "type": "quantitative", "scale": {"domain": [0, 250], "nice": false}, "axis": {"values": [0, 50, 100, 150, 200, 250], "title": "Penetration (mm)", "labelPadding": 24, "titlePadding": 14}},
    "y": {"field": "y", "type": "quantitative", "scale": {"domain": [0, 900], "nice": false}, "axis": {"values": [0, 100, 200, 300, 400, 500, 600, 700, 800, 900], "title": "Force (KN)", "labelPadding": 20, "titlePadding": 38}},
    "color": {"field": "series", "type": "nominal", "scale": {"domain": ["experiment", "SHEARS-30mm-w=0", "RTCLS-30mm-w=0", "BWH-30mm-w=0", "SHEARS-16mm-w=0", "RTCLS-16mm-w=0", "BWH-16mm-w=0", "SHEARS-8mm-w=0", "RTCLS-8mm-w=0", "BWH-8mm-w=0"], "range": ["#000000", "#FF0000", "#FF0000", "#FF0000", "#92D050", "#92D050", "#92D050", "#00B0F0", "#00B0F0", "#00B0F0"]},
      "legend": {"title": null, "orient": "none", "legendX": 23.5, "legendY": 2, "padding": 0, "symbolType": "M-2.35,0H2.35", "symbolSize": 400, "labelFontSize": 24, "labelFont": "Open Sans", "labelColor": "#000000", "labelOffset": 16.5, "rowPadding": 5.6, "labelLimit": 400}},
    "strokeDash": {"field": "series", "type": "nominal", "scale": {"domain": ["experiment", "SHEARS-30mm-w=0", "RTCLS-30mm-w=0", "BWH-30mm-w=0", "SHEARS-16mm-w=0", "RTCLS-16mm-w=0", "BWH-16mm-w=0", "SHEARS-8mm-w=0", "RTCLS-8mm-w=0", "BWH-8mm-w=0"], "range": [[1, 0], [1, 0], [8, 4], [2.5, 3], [1, 0], [8, 4], [2.5, 3], [1, 0], [8, 4], [2.5, 3]]}},
    "strokeWidth": {"field": "series", "type": "nominal", "scale": {"domain": ["experiment", "SHEARS-30mm-w=0", "RTCLS-30mm-w=0", "BWH-30mm-w=0", "SHEARS-16mm-w=0", "RTCLS-16mm-w=0", "BWH-16mm-w=0", "SHEARS-8mm-w=0", "RTCLS-8mm-w=0", "BWH-8mm-w=0"], "range": [4.5, 2.5, 2.5, 2.5, 2.5, 2.5, 2.5, 2.5, 2.5, 2.5]}}
  }
}
